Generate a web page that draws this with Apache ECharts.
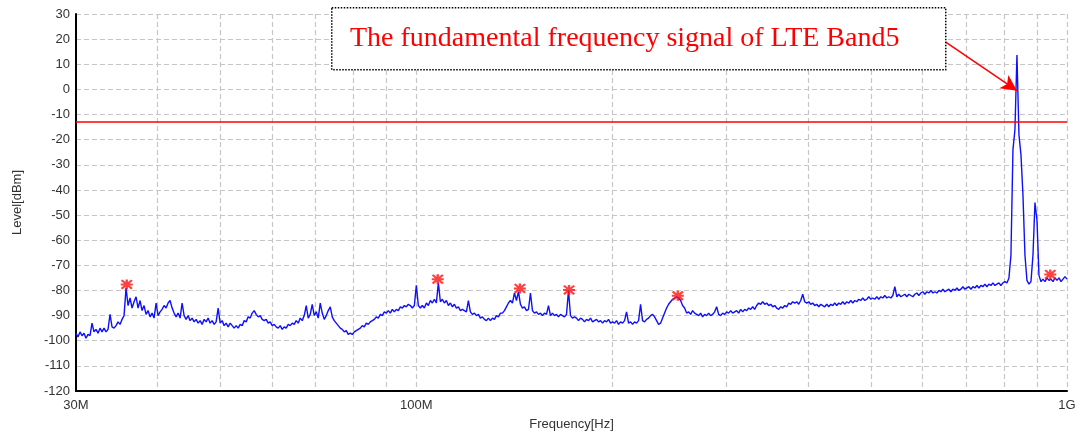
<!DOCTYPE html>
<html>
<head>
<meta charset="utf-8">
<style>
  html, body { margin: 0; padding: 0; background: #ffffff; }
  #chart { width: 1080px; height: 441px; }
</style>
<script src="https://cdn.jsdelivr.net/npm/echarts@6/dist/echarts.min.js"></script>
</head>
<body>
<div id="chart"></div>
<script>
// ---- Data ----
// Analyzer sweep: log-spaced from 30 MHz to 1 GHz, one level per sweep point
const sweepStartHz = 30e6;
const sweepStopHz = 1e9;
const levels = [
  -97,-98.5,-96.5,-98,-97,-99,-97.5,-98,-93,-96.5,
  -95.5,-97,-95,-96.5,-95,-96.5,-95.5,-89.5,-94.5,-95,
  -94,-92.5,-93.5,-91.5,-90,-79,-86,-83,-87,-84.5,
  -82.5,-87,-84,-88,-86,-89.5,-88,-90.5,-89,-91,
  -85,-90,-88.5,-87.5,-86,-87,-85,-84,-87,-89,
  -90.5,-89,-91,-85,-90,-91.5,-90,-92,-91,-92.5,
  -91.5,-93,-92,-93.5,-91.5,-92.5,-91,-93,-92,-93.5,
  -92.5,-87,-93,-92,-94,-93,-94.5,-93,-94,-95,
  -94,-95,-93.5,-94,-92,-92.5,-90.5,-91,-89,-88,
  -89.5,-90.5,-90,-91.5,-92,-91.5,-93,-92.5,-94,-93.5,
  -94.5,-95,-94,-95.5,-94.5,-95,-93.5,-94,-93,-93.5,
  -92,-93,-91,-92,-90,-86,-91,-89.5,-85.5,-90,
  -88.5,-91,-85,-89,-91.5,-90,-88,-86.5,-90.5,-92,
  -93,-94,-95,-95.5,-96.5,-96,-97.5,-97,-97.5,-96.5,
  -96,-95.5,-95,-94,-94.5,-93,-93.5,-92.5,-92,-91.5,
  -90.5,-91,-89.5,-90,-88.5,-89,-88,-89,-87.5,-88.5,
  -87.5,-88,-86.5,-87,-86,-86.5,-85.5,-86,-87,-86,
  -78,-86,-87,-86,-87,-85,-86,-84,-85,-83.5,
  -85,-77,-84.5,-83.5,-85,-84,-86,-85,-86.5,-85.5,
  -87,-86.5,-88,-87.5,-88,-88.5,-84,-88.5,-89.5,-89,
  -90,-89.5,-91,-90.5,-91.5,-92,-91,-92,-91,-91.5,
  -90,-90.5,-89,-89,-88,-86.5,-85,-84,-85,-81,
  -84,-80.5,-85.5,-87,-86.5,-88,-87.5,-81,-88,-89,
  -88.5,-89.5,-89,-90,-89,-89.5,-86,-90,-89,-90,
  -89.5,-90.5,-89.5,-90,-90.5,-89.5,-80,-90,-91,-90.5,
  -91,-92,-91,-91.5,-92.5,-91.5,-92,-91,-92.5,-92,
  -91.5,-92.5,-92,-93,-92,-92.5,-91.5,-93,-92.5,-93,
  -92,-93.5,-92.5,-93,-92,-88.5,-93,-92.5,-93.5,-92.5,
  -93,-92,-85.5,-92,-92.5,-91.5,-91,-90,-89.5,-90.5,
  -92,-93.5,-93,-91,-89,-87,-85.5,-84.5,-83.5,-83,
  -82.5,-83,-84,-86,-87,-89,-88.5,-89.5,-88,-89,
  -89.5,-90,-89,-90.5,-89.5,-90,-89,-90,-89.5,-88.5,
  -86.5,-89.5,-90,-89,-89.5,-88.5,-89,-88,-89,-88.5,
  -88,-89,-87.5,-88.5,-87.5,-88,-87,-87.5,-86.5,-87.5,
  -86,-85,-85.5,-84.5,-85.5,-85,-86,-85.5,-86.5,-86,
  -87,-87.5,-86.5,-87,-86,-86.5,-85,-85.5,-84.5,-85,
  -84.5,-85.5,-84,-81.5,-84.5,-85,-84.5,-85.5,-85,-86,
  -85.5,-86.5,-85.5,-86,-86.5,-85.5,-86.5,-85.5,-86,-85,
  -86,-85,-85.5,-84.5,-85.5,-84.5,-85,-84,-85,-84,
  -84.5,-83.5,-84,-83,-84,-83.5,-82.5,-83.5,-83,-83.5,
  -82.5,-83.5,-82.5,-83,-82,-83,-82.5,-83,-82,-78.5,
  -82.5,-81.5,-82.5,-82,-81.5,-82.5,-81.5,-82,-82.5,-81.5,
  -81,-82,-81,-80.5,-81.5,-80.5,-81,-80,-81,-80.5,
  -81,-80,-80.5,-79.5,-80.5,-80,-79.5,-80.5,-79.5,-80,
  -79,-80,-79.5,-78.5,-79.5,-79,-78.5,-79.5,-78.5,-79,
  -78,-79,-78,-78.5,-77.5,-78.5,-77.5,-78,-77,-78,
  -77.5,-77,-78,-77,-76.5,-77,-75,-66,-24,-16,
  13.7,-18,-26,-42,-66,-76,-77.5,-76.5,-66,-45,
  -52,-74,-76.5,-75.5,-76.5,-75,-76,-75.5,-76.5,-75,
  -76,-75,-76.5,-75.5,-74.5,-75.5
];

// Peak markers (MHz, dBm)
const markerFreqMHz = [35.9, 107.9, 144.3, 171.7, 252.3, 942.6];
const markerLevels = [-77.6, -75.5, -79.2, -79.8, -82.1, -73.6];

// Limit line
const limitLevel = -13;

// Axis ticks
const xGridMHz = [30, 40, 50, 60, 70, 80, 90, 100, 200, 300, 400, 500, 600, 700, 800, 900, 1000];
const xLabelMHz = [30, 100, 1000];
const xLabelTexts = ['30M', '100M', '1G'];
const yMin = -120, yMax = 30, yStep = 10;

// Annotation
const annotationText = 'The fundamental frequency signal of LTE Band5';
const arrowFrom = [636, 20.6];     // MHz, dBm
const arrowTo = [838, -0.5];       // MHz, dBm

// ---- Build ----
const ratio = sweepStopHz / sweepStartHz;
const traceData = levels.map((v, i) => [sweepStartHz * Math.pow(ratio, i / (levels.length - 1)), v]);
const markerData = markerFreqMHz.map((f, i) => [f * 1e6, markerLevels[i]]);

const asterisk = 'path://M0 4L10 4L10 6L0 6Z M4 0L6 0L6 10L4 10Z M1.4 0L10 8.6L8.6 10L0 1.4Z M8.6 0L10 1.4L1.4 10L0 8.6Z';

const gridLineStyle = { color: '#c6c6c6', width: 1.2, type: [5, 3] };
const labelFont = { color: '#333333', fontSize: 13, fontFamily: 'Liberation Sans, Arial, sans-serif' };

const chart = echarts.init(document.getElementById('chart'), null, { renderer: 'canvas' });
chart.setOption({
  animation: false,
  backgroundColor: '#ffffff',
  grid: { left: 76, right: 13, top: 14, bottom: 50, containLabel: false },
  xAxis: {
    type: 'log',
    logBase: 10,
    min: sweepStartHz,
    max: sweepStopHz,
    name: 'Frequency[Hz]',
    nameLocation: 'middle',
    nameGap: 27,
    nameTextStyle: labelFont,
    axisLine: { show: true, onZero: false, lineStyle: { color: '#000000', width: 2 } },
    axisTick: { show: false, customValues: xGridMHz.map(m => m * 1e6) },
    axisLabel: {
      ...labelFont,
      margin: 8,
      customValues: xLabelMHz.map(m => m * 1e6),
      formatter: function (v) {
        let best = 0, bd = Infinity;
        xLabelMHz.forEach((m, i) => { const d = Math.abs(Math.log10(v / (m * 1e6))); if (d < bd) { bd = d; best = i; } });
        return xLabelTexts[best];
      }
    },
    splitLine: { show: true, lineStyle: gridLineStyle }
  },
  yAxis: {
    type: 'value',
    min: yMin,
    max: yMax,
    interval: yStep,
    name: 'Level[dBm]',
    nameLocation: 'middle',
    nameGap: 52,
    nameTextStyle: labelFont,
    axisLine: { show: true, onZero: false, lineStyle: { color: '#000000', width: 2 } },
    axisTick: { show: false },
    axisLabel: { ...labelFont, margin: 6 },
    splitLine: { show: true, lineStyle: gridLineStyle }
  },
  series: [
    {
      type: 'line',
      data: traceData,
      showSymbol: false,
      sampling: null,
      lineStyle: { color: '#0f0fff', width: 1.4 },
      z: 3,
      markLine: {
        silent: true,
        symbol: 'none',
        label: { show: false },
        lineStyle: { color: '#ff0000', width: 1.5, type: 'solid' },
        data: [{ yAxis: limitLevel }]
      }
    },
    {
      type: 'scatter',
      data: markerData,
      symbol: asterisk,
      symbolSize: [12, 10],
      itemStyle: { color: '#ff1010' },
      z: 5,
      markLine: {
        silent: true,
        symbol: ['none', 'arrow'],
        symbolSize: [12, 16],
        label: { show: false },
        lineStyle: { color: '#ff0000', width: 1.5, type: 'solid' },
        data: [[
          { coord: [arrowFrom[0] * 1e6, arrowFrom[1]] },
          { coord: [arrowTo[0] * 1e6, arrowTo[1]] }
        ]]
      }
    }
  ],
  graphic: [
    {
      type: 'rect',
      left: 331, top: 7,
      shape: { width: 614, height: 62 },
      style: { fill: '#ffffff', stroke: '#000000', lineWidth: 1.5, lineDash: [1.5, 1.5] },
      z: 10
    },
    {
      type: 'text',
      left: 350, top: 25,
      style: {
        text: annotationText,
        fill: '#ff0000',
        font: '28px "Liberation Serif", "Times New Roman", serif'
      },
      z: 11
    }
  ]
});
</script>
</body>
</html>
